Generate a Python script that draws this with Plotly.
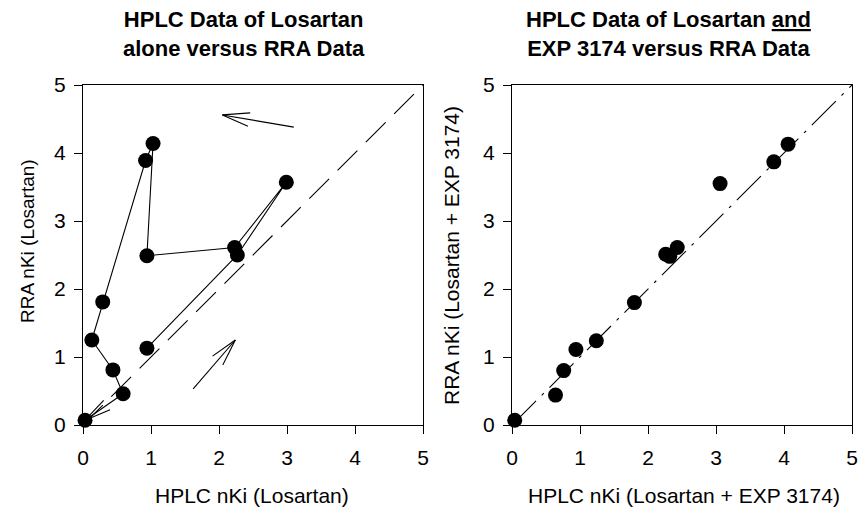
import numpy as np
import plotly.graph_objects as go

# ---- data ----
# Left: HPLC (losartan alone) vs RRA, connected in time order
left_hplc = [0.94, 2.27, 2.99, 2.23, 0.94, 1.03, 0.92, 0.29, 0.13, 0.44, 0.59, 0.03]
left_rra = [1.13, 2.50, 3.57, 2.61, 2.49, 4.14, 3.89, 1.81, 1.25, 0.81, 0.46, 0.07]
# Right: HPLC (losartan + EXP 3174) vs RRA
right_hplc = [0.04, 0.64, 0.76, 0.94, 1.24, 1.80, 2.26, 2.32, 2.43, 3.06, 3.85, 4.06]
right_rra = [0.07, 0.44, 0.80, 1.11, 1.24, 1.80, 2.51, 2.48, 2.61, 3.55, 3.87, 4.13]
identity = [0, 5]
tick_vals = [0, 1, 2, 3, 4, 5]
# direction arrows (tail -> head) in data units
arrow_tails = [(3.10, 4.38), (1.62, 0.53)]
arrow_heads = [(2.05, 4.56), (2.24, 1.25)]

FONT = "Liberation Sans, Arial, sans-serif"

fig = go.Figure()

# identity lines
fig.add_trace(go.Scatter(x=identity, y=identity, mode="lines", xaxis="x", yaxis="y",
                         line=dict(color="black", width=1.1, dash="28px,12px"),
                         cliponaxis=False, hoverinfo="skip", showlegend=False))
fig.add_trace(go.Scatter(x=identity, y=identity, mode="lines", xaxis="x2", yaxis="y2",
                         line=dict(color="black", width=1.1, dash="34px,8px,3px,8px"),
                         cliponaxis=False, hoverinfo="skip", showlegend=False))

# left data path
fig.add_trace(go.Scatter(x=left_hplc, y=left_rra, mode="lines+markers", xaxis="x", yaxis="y",
                         line=dict(color="black", width=1.1),
                         marker=dict(color="black", size=15),
                         cliponaxis=False, showlegend=False))
# right data
fig.add_trace(go.Scatter(x=right_hplc, y=right_rra, mode="markers", xaxis="x2", yaxis="y2",
                         marker=dict(color="black", size=15),
                         cliponaxis=False, showlegend=False))


def open_arrow(tail, head, blen=0.41, ang=14):
    t = np.array(tail, float)
    h = np.array(head, float)
    d = (t - h) / np.linalg.norm(t - h)
    xs, ys = [t[0], h[0], None], [t[1], h[1], None]
    for s in (1, -1):
        a = np.deg2rad(ang * s)
        r = np.array([[np.cos(a), -np.sin(a)], [np.sin(a), np.cos(a)]]) @ d
        p = h + r * blen
        xs += [h[0], p[0], None]
        ys += [h[1], p[1], None]
    return xs, ys


for t, h in zip(arrow_tails, arrow_heads):
    xs, ys = open_arrow(t, h)
    fig.add_trace(go.Scatter(x=xs, y=ys, mode="lines", xaxis="x", yaxis="y",
                             line=dict(color="black", width=1.1),
                             hoverinfo="skip", showlegend=False))

# small arrowhead at end of time course (towards origin)
xs, ys = open_arrow((left_hplc[-2], left_rra[-2]), (left_hplc[-1], left_rra[-1]), blen=0.4, ang=12)
fig.add_trace(go.Scatter(x=xs[3:], y=ys[3:], mode="lines", xaxis="x", yaxis="y",
                         line=dict(color="black", width=1.1),
                         hoverinfo="skip", showlegend=False))

W, H = 861, 509
ydom = [1 - 425 / H, 1 - 85 / H]
axis_common = dict(range=[0, 5], tickvals=tick_vals, showline=True, mirror=True,
                   linecolor="black", linewidth=1.2, ticks="outside", ticklen=8,
                   tickcolor="black", tickwidth=1.2, showgrid=False, zeroline=False,
                   automargin=False, ticklabeloverflow="allow",
                   tickfont=dict(family=FONT, size=21, color="black"))

fig.update_layout(
    template="none",
    width=W, height=H, margin=dict(l=0, r=0, t=0, b=0, autoexpand=False),
    paper_bgcolor="white", plot_bgcolor="white",
    xaxis=dict(domain=[83 / W, 423 / W], anchor="y", ticklabelstandoff=6, **axis_common),
    yaxis=dict(domain=ydom, anchor="x", ticklabelstandoff=4, **axis_common),
    xaxis2=dict(domain=[512 / W, 852 / W], anchor="y2", ticklabelstandoff=6, **axis_common),
    yaxis2=dict(domain=ydom, anchor="x2", ticklabelstandoff=4, **axis_common),
    showlegend=False,
)

ann = []
tfont = dict(family=FONT, size=22, color="black")
ann.append(dict(text="<b>HPLC Data of Losartan<br>alone versus RRA Data</b>", x=244 / W, y=1 - 5 / H,
                xref="paper", yref="paper", xanchor="center", yanchor="top", showarrow=False,
                font=tfont, align="center"))
ann.append(dict(text="<b>HPLC Data of Losartan <u>and</u><br>EXP 3174 versus RRA Data</b>", x=668 / W, y=1 - 5 / H,
                xref="paper", yref="paper", xanchor="center", yanchor="top", showarrow=False,
                font=tfont, align="center"))
lfont = dict(family=FONT, size=21, color="black")
ann.append(dict(text="HPLC nKi (Losartan)", x=252 / W, y=1 - 495 / H, xref="paper", yref="paper",
                xanchor="center", yanchor="middle", showarrow=False, font=lfont))
ann.append(dict(text="HPLC nKi (Losartan + EXP 3174)", x=684 / W, y=1 - 495 / H, xref="paper", yref="paper",
                xanchor="center", yanchor="middle", showarrow=False, font=lfont))
ann.append(dict(text="RRA nKi (Losartan)", x=27 / W, y=1 - 241 / H, xref="paper", yref="paper",
                xanchor="center", yanchor="middle", showarrow=False, textangle=-90,
                font=dict(family=FONT, size=19, color="black")))
ann.append(dict(text="RRA nKi (Losartan + EXP 3174)", x=452 / W, y=1 - 256 / H, xref="paper", yref="paper",
                xanchor="center", yanchor="middle", showarrow=False, textangle=-90, font=lfont))
fig.update_layout(annotations=ann)

fig.write_html("out.html")
